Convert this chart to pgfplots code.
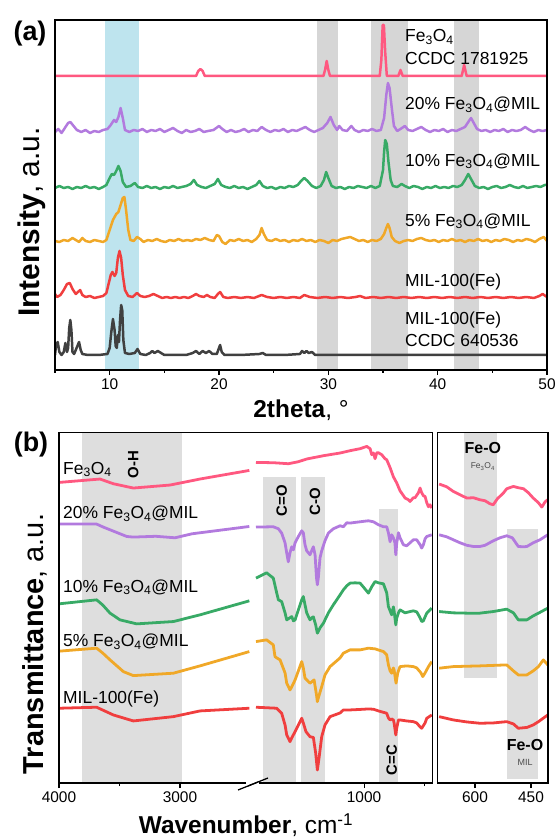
\documentclass[border=0pt]{standalone}
\usepackage{pgfplots}
\pgfplotsset{compat=1.18}
\usepackage{fontspec}
\setmainfont{Liberation Sans}
\definecolor{cpink}{RGB}{255,88,128}
\definecolor{cpurple}{RGB}{178,122,222}
\definecolor{cgreen}{RGB}{56,170,102}
\definecolor{corange}{RGB}{240,168,40}
\definecolor{cred}{RGB}{240,62,62}
\definecolor{cblack}{RGB}{64,64,64}
\definecolor{cblue}{RGB}{190,228,238}
\definecolor{cgrey}{RGB}{214,214,214}
\definecolor{cgreyb}{RGB}{222,222,222}
\newcommand{\fs}[1]{\fontsize{#1}{#1}\selectfont}
\newcommand{\FeO}{Fe\textsubscript{3}O\textsubscript{4}}
\pgfplotsset{
  base/.style={
    scale only axis, anchor=south west,
    ymin=0, ymax=350, ytick=\empty,
    tick align=outside, xtick pos=left,
    major tick length=5bp, minor tick length=3bp,
    tick style={black, line width=1.1pt},
    ticklabel style={font=\fs{15.5}},
    /pgf/number format/assume math mode=true,
    /pgf/number format/1000 sep={},
    axis line style={line width=1.3pt},
    axis on top,
  },
  xrd/.style={line width=2.5pt, line join=round, no markers},
  ir/.style={line width=2.8pt, line join=round, no markers},
}
\begin{document}
\begin{tikzpicture}[x=1bp,y=1bp]
\path[use as bounding box] (0,0) rectangle (555,839);
% ---------------- panel (a) ----------------
\begin{axis}[base, at={(55bp,469bp)}, width=492bp, height=350bp,
  xmin=5, xmax=50, xtick={10,20,30,40,50}, minor xtick={5,15,25,35,45}]
\fill[cblue] (axis cs:9.6,0) rectangle (axis cs:12.65,350);
\fill[cgrey] (axis cs:28.95,0) rectangle (axis cs:30.87,350);
\fill[cgrey] (axis cs:33.92,0) rectangle (axis cs:37.33,350);
\fill[cgrey] (axis cs:41.45,0) rectangle (axis cs:43.82,350);
% MIL-100(Fe) CCDC 640536
\addplot[xrd, cblack] coordinates {(5.0,15) (5.1,25) (5.25,28) (5.4,18) (5.6,15) (5.8,18) (5.95,27) (6.1,18) (6.2,22) (6.3,42) (6.4,50) (6.5,40) (6.6,18) (6.75,16) (6.9,20) (7.05,24) (7.2,28) (7.35,20) (7.5,16) (8.0,15) (9.0,15) (9.8,16) (10.0,22) (10.15,38) (10.3,51) (10.45,40) (10.55,24) (10.65,22) (10.75,35) (10.85,28) (10.95,50) (11.05,65) (11.15,60) (11.25,30) (11.4,17) (11.8,16) (12.3,17) (12.55,21) (12.8,16) (13.3,15) (13.7,17) (13.9,19) (14.1,17) (14.4,19) (14.7,17) (15.0,15) (16.0,15) (17.0,15) (17.6,17) (17.9,19) (18.2,16) (18.5,19) (18.8,17) (19.1,19) (19.4,16) (19.8,16) (20.0,22) (20.1,25) (20.25,18) (20.5,15) (22.0,15) (23.7,16) (24.0,17) (24.3,15) (26.0,15) (27.4,16) (27.6,19) (27.8,17) (28.0,19) (28.2,17) (28.5,18) (28.8,15) (30.0,15) (33.0,15) (36.0,15) (40.0,15) (44.0,15) (50.0,15)};
% MIL-100(Fe)
\addplot[xrd, cred] coordinates {(5.0,76) (5.2,73) (5.5,75) (5.8,80) (6.1,86) (6.35,87) (6.6,81) (6.9,76) (7.1,78) (7.3,80) (7.5,75) (7.8,73) (8.2,74) (8.6,72) (9.0,73) (9.4,74) (9.7,77) (9.9,86) (10.1,95) (10.25,98) (10.45,94) (10.6,97) (10.75,112) (10.9,119) (11.05,112) (11.2,95) (11.4,80) (11.7,74) (12.1,73) (12.5,77) (12.8,74) (13.2,73) (13.6,74) (14.0,76) (14.4,74) (14.8,72) (15.2,73) (15.6,72) (16.0,73) (16.4,72) (16.8,73) (17.2,72) (17.6,74) (17.9,76) (18.2,74) (18.6,73) (18.9,75) (19.2,73) (19.6,72) (19.9,76) (20.1,78) (20.4,73) (20.8,72) (21.4,73) (22.0,72) (22.6,73) (23.2,72) (23.9,75) (24.4,73) (25.0,72) (25.6,73) (26.2,72) (26.8,73) (27.4,72) (27.8,75) (28.3,73) (29.0,72) (29.7,73) (30.4,72) (31.1,73) (31.8,72) (32.5,73) (32.9,74) (33.4,72) (34.1,73) (34.8,72) (35.5,73) (36.2,72) (36.9,73) (37.6,72) (38.3,73) (39.0,72) (39.7,73) (40.4,72) (41.1,73) (41.8,72) (42.5,73) (43.2,72) (43.9,73) (44.6,72) (45.3,73) (46.0,72) (46.7,73) (47.4,72) (48.1,73) (48.8,72) (49.3,74) (49.6,76) (50.0,73)};
% 5%
\addplot[xrd, corange] coordinates {(5.0,129) (5.4,128) (5.8,130) (6.2,129) (6.6,132) (6.9,130) (7.2,128) (7.5,132) (7.8,129) (8.2,128) (8.6,130) (9.0,129) (9.4,128) (9.7,130) (10.0,140) (10.3,150) (10.6,156) (10.8,158) (11.0,165) (11.2,172) (11.35,173) (11.5,160) (11.7,140) (11.9,130) (12.2,129) (12.5,133) (12.8,131) (13.1,128) (13.5,130) (13.9,129) (14.3,131) (14.7,129) (15.1,128) (15.5,130) (15.9,129) (16.3,131) (16.7,129) (17.1,130) (17.5,129) (17.9,131) (18.3,130) (18.7,132) (19.1,130) (19.5,129) (19.8,135) (20.0,134) (20.3,128) (20.6,126) (21.0,130) (21.4,129) (21.8,131) (22.2,129) (22.6,130) (23.0,128) (23.4,131) (23.7,135) (23.9,142) (24.1,136) (24.4,130) (24.8,129) (25.2,131) (25.6,129) (26.0,130) (26.4,128) (26.8,130) (27.2,129) (27.6,131) (28.0,129) (28.4,130) (28.8,128) (29.2,130) (29.6,129) (30.0,127) (30.4,130) (30.8,129) (31.2,131) (31.6,132) (32.0,133) (32.4,131) (32.8,129) (33.2,130) (33.6,128) (34.0,130) (34.4,129) (34.8,131) (35.1,136) (35.3,142) (35.45,146) (35.6,142) (35.8,133) (36.1,129) (36.5,127) (36.9,129) (37.3,130) (37.7,129) (38.1,131) (38.5,132) (38.9,130) (39.3,129) (39.7,130) (40.1,128) (40.5,130) (40.9,129) (41.3,131) (41.7,129) (42.1,130) (42.5,128) (42.9,130) (43.3,129) (43.7,131) (44.1,129) (44.5,130) (44.9,128) (45.3,130) (45.7,129) (46.1,131) (46.5,130) (46.9,128) (47.3,130) (47.7,129) (48.1,131) (48.5,130) (48.9,128) (49.3,131) (49.7,133) (50.0,129)};
% 10%
\addplot[xrd, cgreen] coordinates {(5.0,182) (5.4,184) (5.8,182) (6.2,183) (6.6,181) (7.0,183) (7.4,182) (7.8,184) (8.2,182) (8.6,183) (9.0,181) (9.4,183) (9.7,185) (10.0,192) (10.2,196) (10.4,195) (10.6,199) (10.8,204) (11.0,199) (11.2,188) (11.5,183) (11.9,184) (12.3,187) (12.6,183) (13.0,182) (13.4,184) (13.8,182) (14.2,183) (14.6,181) (15.0,183) (15.4,182) (15.8,184) (16.2,182) (16.6,183) (17.0,184) (17.4,186) (17.7,190) (18.0,185) (18.4,183) (18.8,182) (19.2,184) (19.6,186) (19.9,191) (20.2,185) (20.6,183) (21.0,182) (21.4,184) (21.8,182) (22.2,183) (22.6,181) (23.0,183) (23.4,185) (23.7,189) (24.0,184) (24.4,182) (24.8,183) (25.2,181) (25.6,183) (26.0,182) (26.4,184) (26.8,183) (27.2,185) (27.5,189) (27.8,192) (28.1,189) (28.5,184) (28.9,182) (29.3,184) (29.6,190) (29.8,198) (30.0,192) (30.3,184) (30.7,182) (31.1,183) (31.5,181) (31.9,183) (32.3,182) (32.7,184) (33.1,183) (33.5,182) (33.9,184) (34.3,182) (34.7,184) (35.0,200) (35.1,218) (35.2,230) (35.35,226) (35.5,208) (35.7,190) (35.9,184) (36.3,183) (36.7,186) (37.0,184) (37.4,182) (37.8,184) (38.2,183) (38.6,181) (39.0,183) (39.4,182) (39.8,184) (40.2,182) (40.6,183) (41.0,182) (41.4,184) (41.8,183) (42.2,185) (42.5,190) (42.8,196) (43.1,190) (43.4,184) (43.8,182) (44.2,183) (44.6,181) (45.0,183) (45.4,184) (45.8,182) (46.2,183) (46.6,185) (47.0,183) (47.4,182) (47.8,184) (48.2,182) (48.6,183) (49.0,184) (49.4,183) (49.8,185) (50.0,185)};
% 20%
\addplot[xrd, cpurple] coordinates {(5.0,238) (5.3,241) (5.6,237) (5.9,242) (6.2,247) (6.4,248) (6.7,244) (7.0,240) (7.4,238) (7.8,240) (8.2,237) (8.6,239) (9.0,238) (9.4,240) (9.8,241) (10.1,245) (10.4,250) (10.6,248) (10.8,253) (11.0,262) (11.2,252) (11.4,240) (11.8,238) (12.2,240) (12.6,239) (13.0,241) (13.4,238) (13.8,240) (14.2,239) (14.6,241) (15.0,238) (15.4,240) (15.8,242) (16.2,239) (16.6,237) (17.0,240) (17.4,238) (17.8,239) (18.2,241) (18.6,238) (19.0,239) (19.5,240) (20.0,244) (20.3,241) (20.7,238) (21.1,240) (21.5,238) (21.9,239) (22.3,241) (22.7,238) (23.1,240) (23.5,239) (23.9,243) (24.3,240) (24.7,238) (25.1,240) (25.5,239) (25.9,241) (26.3,238) (26.7,240) (27.1,239) (27.5,241) (27.9,243) (28.3,240) (28.7,238) (29.1,240) (29.5,242) (29.9,247) (30.2,253) (30.5,245) (30.8,240) (31.0,244) (31.3,240) (31.7,239) (32.1,244) (32.4,240) (32.8,238) (33.2,240) (33.6,239) (34.0,241) (34.4,239) (34.8,240) (35.1,252) (35.3,275) (35.45,287) (35.6,282) (35.8,262) (36.0,244) (36.3,239) (36.6,241) (37.0,244) (37.3,240) (37.7,239) (38.1,241) (38.5,243) (38.9,240) (39.3,238) (39.7,240) (40.1,239) (40.5,241) (40.9,238) (41.3,240) (41.7,239) (42.1,241) (42.5,243) (42.8,248) (43.05,252) (43.3,247) (43.6,241) (44.0,239) (44.4,240) (44.8,238) (45.2,240) (45.6,239) (46.0,241) (46.4,238) (46.8,240) (47.2,239) (47.6,240) (48.0,243) (48.4,240) (48.8,238) (49.2,240) (49.6,239) (50.0,240)};
% Fe3O4 CCDC 1781925
\addplot[xrd, cpink] coordinates {(5,294) (17.9,294) (18.1,299) (18.3,301) (18.5,299) (18.7,294) (29.55,294) (29.7,300) (29.85,309) (30.0,300) (30.15,294) (34.7,294) (34.85,310) (34.97,345) (35.08,345) (35.2,318) (35.35,294) (36.4,294) (36.6,300) (36.8,294) (42.2,294) (42.42,305) (42.65,294) (50,294)};
\end{axis}
\node[anchor=base west, inner sep=0pt, font=\fs{17.5}] at (405,797) {\FeO};
\node[anchor=base west, inner sep=0pt, font=\fs{17.5}] at (405,774) {CCDC 1781925};
\node[anchor=base west, inner sep=0pt, font=\fs{17.5}] at (405,729.4) {20\% \FeO @MIL};
\node[anchor=base west, inner sep=0pt, font=\fs{17.5}] at (405,672.7) {10\% \FeO @MIL};
\node[anchor=base west, inner sep=0pt, font=\fs{17.5}] at (405,612.7) {5\% \FeO @MIL};
\node[anchor=base west, inner sep=0pt, font=\fs{17.5}] at (405,552.7) {MIL-100(Fe)};
\node[anchor=base west, inner sep=0pt, font=\fs{17.5}] at (405,514.4) {MIL-100(Fe)};
\node[anchor=base west, inner sep=0pt, font=\fs{17.5}] at (405,492.4) {CCDC 640536};
\node[font=\bfseries\fs{27}] at (30,805) {(a)};
\node[rotate=90, anchor=base, font=\fs{30}] at (39,617) {\textbf{Intensity}, a.u.};
\node[anchor=base, font=\fs{24.5}] at (301,421) {\textbf{2theta}, °};
% ---------------- panel (b), segment 1 ----------------
\begin{axis}[base, at={(59bp,56bp)}, width=193.6bp, height=350.3bp,
  xmin=2400, xmax=4000, x dir=reverse, xtick={3000,4000}, minor xtick={3500},
  axis line style={draw=none}, clip=false]
\fill[cgreyb] (axis cs:3813,0) rectangle (axis cs:2986,350);
\addplot[ir, cpink] coordinates {(4000,300.3) (3661,303.7) (3551,299) (3386,294.7) (3082,297.7) (2835,303.7) (2427,312.3)};
\addplot[ir, cpurple] coordinates {(4000,258.7) (3689,258.7) (3640,256) (3440,246.3) (3386,245.7) (3200,246.5) (3041,245) (2900,249) (2427,256.3)};
\addplot[ir, cgreen] coordinates {(4000,179) (3689,183) (3640,178) (3578,169.7) (3496,163) (3358,159) (3055,161.3) (2835,168) (2427,182)};
\addplot[ir, corange] coordinates {(4000,131.7) (3689,134.7) (3640,130) (3578,123) (3468,111.3) (3386,107.3) (3055,109.7) (2835,117) (2427,131.3)};
\addplot[ir, cred] coordinates {(4000,74.7) (3689,75.7) (3551,68) (3386,62) (3055,66.3) (2835,72) (2427,74.7)};
\draw[line width=1.3pt] (axis description cs:1,1) -- (axis description cs:0,1) -- (axis description cs:0,0) -- (axis description cs:1,0);
\node[rotate=90, font=\bfseries\fs{15}] at (axis cs:3386,318) {O-H};
\end{axis}
% ---------------- panel (b), segment 2 ----------------
\begin{axis}[base, at={(252.6bp,56bp)}, width=180.1bp, height=350.3bp,
  xmin=433, xmax=1921, x dir=reverse, xtick={1000}, minor xtick={500},
  axis line style={draw=none}, clip=false]
\fill[cgreyb] (axis cs:1838,0) rectangle (axis cs:1562,305.7);
\fill[cgreyb] (axis cs:1524,0) rectangle (axis cs:1322,305.7);
\fill[cgreyb] (axis cs:876,0) rectangle (axis cs:722,273.7);
\addplot[ir, cpink] coordinates {(1893,320.3) (1750,320) (1626,319) (1543,321) (1474,323.7) (1336,327) (1198,329.7) (1116,332) (1033,334) (978,336.3) (950,334) (937,328) (923,329.7) (909,324) (895,330) (882,330) (854,328) (827,324) (813,323) (785,315) (758,306) (730,299.7) (703,292) (661,284.7) (634,283) (620,281.3) (593,285) (579,285) (551,290) (537,294.7) (524,290) (510,287) (496,286.3) (482,280) (468,276) (455,278) (441,274.7)};
\addplot[ir, cpurple] coordinates {(1893,255.7) (1750,256) (1708,254) (1681,249.7) (1653,240) (1639,229.7) (1626,221) (1612,230) (1598,236) (1584,233) (1570,240) (1543,246.3) (1515,252) (1502,250) (1488,238) (1474,232) (1460,230) (1447,228) (1433,232) (1419,236) (1405,228) (1393,205) (1386,198) (1378,205) (1364,225) (1350,232) (1323,242) (1295,249.7) (1254,254) (1198,257) (1171,256) (1143,260) (1116,259.7) (1033,261) (964,262) (923,261) (881,258) (840,256) (813,256) (799,250) (785,241) (772,248) (758,245) (745,240) (738,228) (730,240) (716,250) (703,245) (675,238) (648,237) (620,240) (593,243) (565,243) (537,238) (524,234.7) (510,238) (496,244) (482,246.3) (441,248)};
\addplot[ir, cgreen] coordinates {(1893,204.7) (1805,210) (1750,204.7) (1722,190) (1708,183) (1681,181.3) (1653,170) (1639,163) (1626,164) (1598,166.3) (1584,162) (1570,163) (1543,173) (1515,183) (1502,186.3) (1488,178) (1474,170) (1447,163) (1433,165) (1419,166) (1400,158) (1386,149.7) (1364,155) (1336,159.7) (1295,170) (1254,178) (1198,188) (1171,193) (1143,197) (1116,199.7) (1075,200) (1033,199.7) (1000,195) (964,189.7) (937,196) (909,201.3) (882,200) (840,199) (813,190) (799,176.3) (785,172) (772,168) (758,176) (752,172) (738,158) (730,165) (716,170) (703,173) (661,170) (620,171.3) (593,172) (565,171) (537,165) (524,161.3) (510,162) (496,166) (482,169.7) (441,174.7)};
\addplot[ir, corange] coordinates {(1893,141.3) (1805,143) (1750,138) (1736,126.3) (1722,125) (1694,123) (1653,110) (1639,99.7) (1612,93) (1598,96) (1570,103) (1543,112) (1515,121.3) (1502,115) (1488,104.7) (1447,99.7) (1413,103) (1393,88) (1386,81.3) (1378,85) (1350,96.3) (1323,108) (1281,116.3) (1198,125) (1171,129.7) (1116,133) (1033,133) (964,134.7) (909,134) (840,131.3) (813,128) (799,118) (785,112) (772,109.7) (758,115) (752,113) (736,99.7) (722,110) (703,116.3) (648,117) (593,116.3) (565,115) (530,110) (515,106.3) (496,110) (468,116.3) (441,121.3)};
\addplot[ir, cred] coordinates {(1893,75.7) (1722,74.7) (1681,69.7) (1653,58) (1639,48) (1612,41.3) (1598,45) (1570,51.3) (1543,58) (1515,64.7) (1502,60) (1480,51.3) (1447,46.3) (1419,45.5) (1400,30) (1386,13) (1372,25) (1350,46.3) (1323,58) (1281,66.3) (1198,70) (1171,73) (1116,73) (1033,73.5) (964,74) (923,73.7) (881,72) (813,69.7) (799,65) (785,63) (772,64) (758,63) (752,60) (738,48) (730,55) (716,63) (703,63) (648,62) (593,61.3) (565,60) (537,56) (524,54.7) (496,60) (482,64.7) (441,68)};
\draw[line width=1.3pt] (axis description cs:0,1) -- (axis description cs:1,1) -- (axis description cs:1,0) -- (axis description cs:0,0);
\node[rotate=90, font=\bfseries\fs{15}] at (axis cs:1681,282) {C=O};
\node[rotate=90, font=\bfseries\fs{15}] at (axis cs:1405,281) {C-O};
\node[rotate=90, font=\bfseries\fs{15}] at (axis cs:771.5,23) {C=C};
\end{axis}
% ---------------- panel (b), right ----------------
\begin{axis}[base, at={(437.3bp,56bp)}, width=110.7bp, height=350.3bp,
  xmin=404.4, xmax=700.9, x dir=reverse, xtick={600,450}]
\fill[cgreyb] (axis cs:629,104.7) rectangle (axis cs:542,350);
\fill[cgreyb] (axis cs:515,4) rectangle (axis cs:430,253.7);
\addplot[ir, cpink] coordinates {(696,298.7) (676,296) (658,291.3) (640,288) (622,284.7) (604,285) (587,283) (573,282) (560,279) (551,278) (540,284) (524,289.7) (515,294) (497,296.3) (484,295) (470,294) (457,290) (444,284.7) (430,280) (421,275.7) (412,281) (405,283)};
\addplot[ir, cpurple] coordinates {(696,248) (676,246) (658,243) (640,240) (622,237.5) (604,236.3) (587,236.3) (573,237.5) (551,242) (533,245) (515,247) (500,245) (484,236.3) (470,236) (461,236.3) (444,240) (426,243) (405,248)};
\addplot[ir, cgreen] coordinates {(696,171.3) (658,170) (622,169.7) (587,169.7) (551,171.3) (515,173.7) (497,170) (484,163) (461,163) (444,167) (430,169.7) (405,174.7)};
\addplot[ir, corange] coordinates {(696,114.7) (658,116.3) (587,117) (515,118) (497,112) (484,108) (461,108) (444,112) (430,116.3) (417,123) (405,118)};
\addplot[ir, cred] coordinates {(696,66.3) (658,63) (622,61) (587,59.7) (551,60) (515,61.3) (497,59) (484,54.7) (461,55.5) (444,58) (430,61.3) (405,68)};
\node[font=\bfseries\fs{16}] at (axis cs:579,335) {Fe-O};
\node[font=\fs{8.5}, text=black!70] at (axis cs:579,316) {\FeO};
\node[font=\bfseries\fs{16}] at (axis cs:466,38) {Fe-O};
\node[font=\fs{9}, text=black!70] at (axis cs:466,21) {MIL};
\end{axis}
% axis break mark
\fill[white] (246,50) rectangle (259,62);
\draw[line width=1.3pt] (238,49) -- (258,57);
\draw[line width=1.3pt] (248,53) -- (268,61);
% labels of panel (b)
\node[anchor=base west, inner sep=0pt, font=\fs{17.5}] at (63,364.7) {\FeO};
\node[anchor=base west, inner sep=0pt, font=\fs{17.5}] at (63,320) {20\% \FeO @MIL};
\node[anchor=base west, inner sep=0pt, font=\fs{17.5}] at (63,246.7) {10\% \FeO @MIL};
\node[anchor=base west, inner sep=0pt, font=\fs{17.5}] at (63,192) {5\% \FeO @MIL};
\node[anchor=base west, inner sep=0pt, font=\fs{17.5}] at (63,135.7) {MIL-100(Fe)};
\node[font=\bfseries\fs{27}] at (31,394) {(b)};
\node[rotate=90, anchor=base, font=\fs{29}] at (43,195) {\textbf{Transmittance}, a.u.};
\node[anchor=base, font=\fs{24.5}] at (246,5) {\textbf{Wavenumber}, cm\textsuperscript{-1}};
\end{tikzpicture}
\end{document}
